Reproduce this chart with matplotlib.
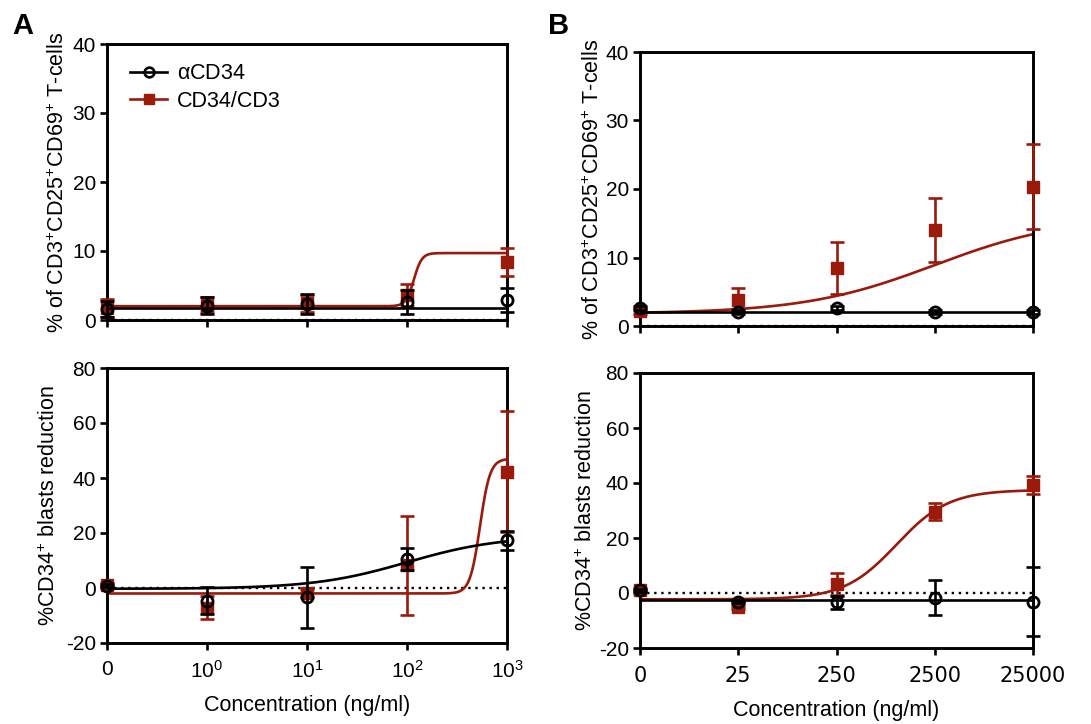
import numpy as np
import matplotlib
matplotlib.use("Agg")
import matplotlib.pyplot as plt
from matplotlib.lines import Line2D

plt.rcParams['font.family'] = ['Liberation Sans', 'DejaVu Sans']
plt.rcParams['mathtext.fontset'] = 'custom'
plt.rcParams['mathtext.rm'] = 'Liberation Sans'
plt.rcParams['mathtext.it'] = 'Liberation Sans:italic'
plt.rcParams['mathtext.bf'] = 'Liberation Sans:bold'

# ---------------- data ----------------
conc_A = [0, 1, 10, 100, 1000]
conc_B = [0, 25, 250, 2500, 25000]
ticklabels_A = ['0', r'$\mathregular{10^{0}}$', r'$\mathregular{10^{1}}$',
                r'$\mathregular{10^{2}}$', r'$\mathregular{10^{3}}$']
ticklabels_B = ['0', '25', '250', '2500', '25000']

# Panel A top: activated T-cells
A_top_cd34 = [1.6, 2.1, 2.3, 2.6, 2.9]
A_top_cd34_err = [1.2, 1.2, 1.4, 1.7, 1.7]
A_top_bis = [1.7, 2.2, 2.4, 3.6, 8.4]
A_top_bis_err = [1.3, 1.1, 1.2, 1.6, 2.0]
# Panel A bottom: blast reduction
A_bot_cd34 = [0.9, -4.6, -3.4, 10.4, 17.3]
A_bot_cd34_err = [0.6, 4.8, 11.2, 4.0, 3.5]
A_bot_bis = [1.2, -7.2, -1.8, 8.2, 42.2]
A_bot_bis_err = [0.6, 4.2, 1.5, 18.0, 22.0]
# Panel B top
B_top_cd34 = [2.6, 2.1, 2.6, 2.0, 2.0]
B_top_cd34_err = [0.3, 0.3, 0.3, 0.3, 0.3]
B_top_bis = [2.2, 3.8, 8.4, 14.0, 20.3]
B_top_bis_err = [0.4, 1.7, 3.8, 4.7, 6.2]
# Panel B bottom
B_bot_cd34 = [1.0, -3.3, -3.4, -1.7, -3.2]
B_bot_cd34_err = [0.5, 0.5, 2.3, 6.4, 12.6]
B_bot_bis = [1.2, -5.2, 3.2, 29.6, 39.2]
B_bot_bis_err = [0.5, 0.5, 4.0, 3.0, 3.3]

# fitted dose-response curves: (bottom, top, EC50 in ng/ml, Hill slope)
A_top_cd34_fit = (1.7, 1.7, 100.0, 1.0)
A_top_bis_fit = (2.0, 9.7, 117.0, 10.9)
A_bot_cd34_fit = (-0.3, 19.0, 100.0, 0.93)
A_bot_bis_fit = (-2.0, 47.0, 537.0, 8.7)
B_top_cd34_fit = (2.0, 2.0, 2500.0, 1.0)
B_top_bis_fit = (1.8, 16.0, 2500.0, 0.65)
B_bot_cd34_fit = (-2.6, -2.6, 2500.0, 1.0)
B_bot_bis_fit = (-2.3, 37.5, 1019.0, 1.63)

legend_labels = [r'$\mathregular{\alpha}$CD34', 'CD34/CD3']
ylabel_top = r'% of CD3$^{+}$CD25$^{+}$CD69$^{+}$ T-cells'
ylabel_bot = r'%CD34$^{+}$ blasts reduction'
xlabel = 'Concentration (ng/ml)'

RED = '#9a1a0c'
BLACK = 'black'

TICK_FS = 15
LABEL_FS = 15.5

W, H = 1091, 724
fig = plt.figure(figsize=(W / 100, H / 100), dpi=100)


def add_ax(l, t, r, b):
    return fig.add_axes([l / W, 1 - b / H, (r - l) / W, (b - t) / H])


def hill(c, p):
    b, t, ec, h = p
    return b + (t - b) / (1 + 10 ** ((np.log10(ec) - np.log10(c)) * h))


def draw(ax, conc, cd34, cd34e, bis, bise, fit34, fitbis, ylim, yticks,
         ticklabels, show_xlabels, xfont, ylabel, label_x, xpad, xlabelpad):
    c1 = conc[1]
    zero_pos = c1 / 10.0
    xs = np.array([zero_pos if c == 0 else c for c in conc], dtype=float)
    ax.set_xscale('log')
    ax.set_xlim(zero_pos, conc[-1])
    ax.set_ylim(*ylim)
    xx = np.logspace(np.log10(zero_pos), np.log10(conc[-1]), 600)
    ax.axhline(0, color='black', ls=(0, (1, 2.0)), lw=1.7, zorder=1)
    # red
    ax.plot(xx, hill(xx, fitbis), color=RED, lw=1.9, zorder=2)
    ax.errorbar(xs, bis, yerr=bise, fmt='none', ecolor=RED, elinewidth=1.9,
                capsize=5, capthick=1.9, zorder=3, clip_on=False)
    ax.plot(xs, bis, ls='none', marker='s', ms=8.5, color=RED, mec=RED,
            zorder=4, clip_on=False)
    # black
    ax.plot(xx, hill(xx, fit34), color=BLACK, lw=1.9, zorder=5)
    ax.errorbar(xs, cd34, yerr=cd34e, fmt='none', ecolor=BLACK, elinewidth=1.9,
                capsize=5, capthick=1.9, zorder=6, clip_on=False)
    ax.plot(xs, cd34, ls='none', marker='o', ms=8, mfc='none', mec=BLACK,
            mew=2.0, zorder=7, clip_on=False)

    ax.set_xticks(xs)
    ax.xaxis.set_minor_locator(matplotlib.ticker.NullLocator())
    if show_xlabels:
        ax.set_xticklabels(ticklabels, fontsize=TICK_FS, family=xfont)
        ax.set_xlabel(xlabel, fontsize=LABEL_FS, labelpad=xlabelpad)
    else:
        ax.set_xticklabels([])
    ax.set_yticks(yticks)
    ax.set_yticklabels([str(v) for v in yticks], fontsize=TICK_FS)
    ax.tick_params(axis='both', direction='out', length=5, width=1.9)
    ax.tick_params(axis='y', pad=3)
    ax.tick_params(axis='x', pad=xpad)
    for s in ax.spines.values():
        s.set_linewidth(2.1)
    ax.set_ylabel(ylabel, fontsize=LABEL_FS)
    ax.yaxis.set_label_coords(label_x, 0.5)


axA1 = add_ax(107, 44, 507, 320)
axA2 = add_ax(107, 368, 507, 643)
axB1 = add_ax(640, 52, 1033, 326)
axB2 = add_ax(640, 373, 1033, 648)

draw(axA1, conc_A, A_top_cd34, A_top_cd34_err, A_top_bis, A_top_bis_err,
     A_top_cd34_fit, A_top_bis_fit, (0, 40), [0, 10, 20, 30, 40],
     ticklabels_A, False, 'Liberation Sans', ylabel_top, -0.095, 4, 4)
draw(axA2, conc_A, A_bot_cd34, A_bot_cd34_err, A_bot_bis, A_bot_bis_err,
     A_bot_cd34_fit, A_bot_bis_fit, (-20, 80), [-20, 0, 20, 40, 60, 80],
     ticklabels_A, True, 'Liberation Sans', ylabel_bot, -0.118, 7, 10)
draw(axB1, conc_B, B_top_cd34, B_top_cd34_err, B_top_bis, B_top_bis_err,
     B_top_cd34_fit, B_top_bis_fit, (0, 40), [0, 10, 20, 30, 40],
     ticklabels_B, False, 'DejaVu Sans', ylabel_top, -0.092, 4, 4)
draw(axB2, conc_B, B_bot_cd34, B_bot_cd34_err, B_bot_bis, B_bot_bis_err,
     B_bot_cd34_fit, B_bot_bis_fit, (-20, 80), [-20, 0, 20, 40, 60, 80],
     ticklabels_B, True, 'DejaVu Sans', ylabel_bot, -0.11, 8, 10)

handles = [Line2D([], [], color=BLACK, marker='o', mfc='none', mec=BLACK, ms=7, mew=1.9, lw=1.9),
           Line2D([], [], color=RED, marker='s', ms=7.5, lw=1.9)]
axA1.legend(handles, legend_labels, loc='upper left', frameon=False, fontsize=LABEL_FS,
            handlelength=1.7, handletextpad=0.45, labelspacing=0.3,
            bbox_to_anchor=(0.01, 1.0))

fig.text(12 / W, 1 - 12 / H, 'A', fontsize=21, fontweight='bold', va='top', ha='left')
fig.text(548 / W, 1 - 12 / H, 'B', fontsize=21, fontweight='bold', va='top', ha='left')

fig.savefig('out.png', dpi=100)
